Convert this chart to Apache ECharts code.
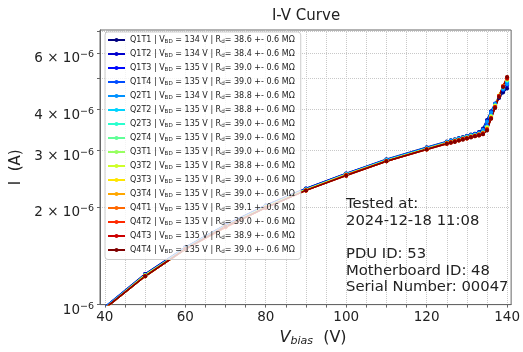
<!DOCTYPE html>
<html><head><meta charset="utf-8">
<script src="https://cdn.jsdelivr.net/npm/echarts@6/dist/echarts.min.js"></script>
<style>html,body{margin:0;padding:0;background:#fff}#c{width:523px;height:352px}</style>
</head><body><div id="c"></div>
<script>
// Bias voltages (V)
const voltages = [40,50,60,70,80,90,100,110,120,125,126,127,128,129,130,131,132,133,134,135,136,137,138,139,140];
// Channel labels
const channels = ['Q1T1','Q1T2','Q1T3','Q1T4','Q2T1','Q2T2','Q2T3','Q2T4','Q3T1','Q3T2','Q3T3','Q3T4','Q4T1','Q4T2','Q4T3','Q4T4'];
const vbd = [134,134,135,135,134,135,135,135,135,135,135,135,135,135,135,135];
const rd = ['38.6','38.4','39.0','39.0','38.8','38.8','39.0','39.0','39.0','38.8','39.0','39.0','39.1','39.0','38.9','39.0'];
const rdErr = '0.6';
// Currents in µA (×1e-6 A)
const iQ1T1 = [0.98,1.24,1.50,1.76,2.02,2.28,2.54,2.81,3.06,3.19,3.22,3.24,3.27,3.29,3.32,3.35,3.37,3.41,3.50,3.72,3.95,4.15,4.35,4.52,4.65];
const iQ1T2 = [0.98,1.24,1.50,1.76,2.02,2.28,2.54,2.80,3.05,3.18,3.21,3.23,3.26,3.28,3.31,3.34,3.37,3.40,3.48,3.70,3.95,4.18,4.40,4.60,4.75];
const iQ1T3 = [0.98,1.23,1.49,1.75,2.01,2.27,2.53,2.80,3.04,3.17,3.20,3.22,3.25,3.27,3.30,3.32,3.35,3.38,3.42,3.58,3.85,4.12,4.38,4.62,4.82];
const iQ1T4 = [0.97,1.23,1.49,1.75,2.01,2.27,2.52,2.79,3.04,3.17,3.19,3.22,3.24,3.27,3.29,3.32,3.34,3.37,3.41,3.56,3.84,4.12,4.40,4.65,4.86];
const iQ2T1 = [0.98,1.23,1.49,1.75,2.01,2.27,2.53,2.80,3.05,3.18,3.21,3.23,3.26,3.28,3.31,3.34,3.36,3.39,3.47,3.68,3.93,4.17,4.40,4.62,4.80];
const iQ2T2 = [0.97,1.23,1.49,1.75,2.00,2.26,2.52,2.79,3.03,3.16,3.19,3.21,3.24,3.26,3.29,3.31,3.34,3.36,3.40,3.55,3.83,4.12,4.41,4.68,4.90];
const iQ2T3 = [0.97,1.23,1.48,1.74,2.00,2.26,2.52,2.78,3.03,3.16,3.18,3.21,3.23,3.26,3.28,3.31,3.33,3.36,3.39,3.52,3.81,4.11,4.42,4.70,4.94];
const iQ2T4 = [0.97,1.22,1.48,1.74,2.00,2.26,2.51,2.78,3.03,3.15,3.18,3.20,3.23,3.25,3.28,3.30,3.33,3.35,3.39,3.51,3.80,4.10,4.41,4.71,4.96];
const iQ3T1 = [0.97,1.22,1.48,1.74,2.00,2.26,2.51,2.78,3.02,3.15,3.18,3.20,3.22,3.25,3.27,3.30,3.32,3.35,3.38,3.50,3.79,4.09,4.42,4.72,4.98];
const iQ3T2 = [0.97,1.23,1.48,1.74,2.00,2.26,2.52,2.78,3.03,3.16,3.18,3.21,3.23,3.26,3.28,3.31,3.33,3.36,3.40,3.53,3.82,4.12,4.43,4.72,4.95];
const iQ3T3 = [0.97,1.22,1.48,1.74,1.99,2.25,2.51,2.77,3.02,3.15,3.17,3.20,3.22,3.25,3.27,3.30,3.32,3.34,3.38,3.49,3.78,4.09,4.42,4.74,5.00];
const iQ3T4 = [0.97,1.22,1.48,1.73,1.99,2.25,2.51,2.77,3.02,3.14,3.17,3.19,3.22,3.24,3.27,3.29,3.32,3.34,3.37,3.48,3.78,4.08,4.41,4.74,5.02];
const iQ4T1 = [0.97,1.22,1.48,1.73,1.99,2.25,2.50,2.77,3.01,3.14,3.17,3.19,3.21,3.24,3.26,3.29,3.31,3.34,3.37,3.47,3.76,4.07,4.40,4.73,5.03];
const iQ4T2 = [0.97,1.22,1.48,1.73,1.99,2.25,2.50,2.77,3.01,3.14,3.16,3.19,3.21,3.24,3.26,3.29,3.31,3.33,3.36,3.46,3.76,4.07,4.40,4.73,5.04];
const iQ4T3 = [0.97,1.22,1.48,1.74,1.99,2.25,2.51,2.77,3.02,3.15,3.17,3.20,3.22,3.25,3.27,3.30,3.32,3.35,3.38,3.48,3.77,4.08,4.41,4.72,4.99];
const iQ4T4 = [0.97,1.22,1.48,1.74,1.99,2.25,2.50,2.77,3.01,3.14,3.16,3.18,3.21,3.23,3.26,3.28,3.31,3.33,3.36,3.45,3.75,4.05,4.38,4.70,5.05];
const currents = [iQ1T1,iQ1T2,iQ1T3,iQ1T4,iQ2T1,iQ2T2,iQ2T3,iQ2T4,iQ3T1,iQ3T2,iQ3T3,iQ3T4,iQ4T1,iQ4T2,iQ4T3,iQ4T4];
const colors = ['#000080','#0000cd','#0008ff','#004dff','#0091ff','#00d4ff','#29ffce','#60ff97','#97ff60','#ceff29','#ffe600','#ffa700','#ff6800','#ff2900','#cd0000','#800000'];
// Axis ticks (y in units of 1e-6 A)
const yTickMantissas = [1,2,3,4,5,6,7];
const yLabelMantissas = [1,2,3,4,6];
const yMinA = 0.997e-6, yMaxA = 7.06e-6;
const xTicks = [40,45,50,55,60,65,70,75,80,85,90,95,100,105,110,115,120,125,130,135,140];
const xLabels = [40,60,80,100,120,140];
const infoText = 'Tested at:\n2024-12-18 11:08\n\nPDU ID: 53\nMotherboard ID: 48\nSerial Number: 00047';

const FONT = 'DejaVu Sans';
const lg = v => Math.log10(v);
const chart = echarts.init(document.getElementById('c'), null, {renderer: 'canvas'});
const series = channels.map((name, i) => ({
  name, type: 'line',
  data: voltages.map((v, j) => [v, lg(currents[i][j] * 1e-6)]),
  symbol: 'circle', symbolSize: 4,
  lineStyle: {width: 1.5, color: colors[i]},
  itemStyle: {color: colors[i]},
  animation: false
}));
const gridLine = {show: true, lineStyle: {color: '#c8c8c8', type: 'dotted', width: 1}};
chart.setOption({
  animation: false,
  textStyle: {fontFamily: FONT},
  title: {text: 'I-V Curve', left: 306, top: 9, padding: 0, textAlign: 'center',
    textStyle: {fontFamily: FONT, fontSize: 15, fontWeight: 'normal', color: '#222'}},
  grid: {left: 100, right: 10, top: 30, bottom: 40, show: true, borderColor: '#666', borderWidth: 1},
  xAxis: {
    type: 'value', min: 38.8, max: 141,
    axisLine: {show: true, lineStyle: {color: '#666'}},
    axisTick: {show: true, length: 3, customValues: xTicks, lineStyle: {color: '#666'}},
    axisLabel: {customValues: xLabels, fontSize: 13.5, color: '#222', fontFamily: FONT, margin: 6},
    splitLine: gridLine,
    name: '{i|V}{sub|bias}{n|  (V)}', nameLocation: 'middle', nameGap: 20,
    nameTextStyle: {fontFamily: FONT, fontSize: 16, color: '#222', padding: [0, 0, 0, 15],
      rich: {i: {fontSize: 16, fontStyle: 'italic', fontFamily: FONT, color: '#222'},
             sub: {fontSize: 11, fontStyle: 'italic', fontFamily: FONT, color: '#222', padding: [8, 0, 0, 0]},
             n: {fontSize: 16, fontFamily: FONT, color: '#222'}}}
  },
  yAxis: {
    type: 'value', min: lg(yMinA), max: lg(yMaxA),
    axisLine: {show: true, lineStyle: {color: '#666'}},
    axisTick: {show: true, length: 3, customValues: yTickMantissas.map(m => lg(m * 1e-6)), lineStyle: {color: '#666'}},
    axisLabel: {
      customValues: yLabelMantissas.map(m => lg(m * 1e-6)), margin: 6,
      padding: [10, 0, 0, 0],
      formatter: v => {
        const m = Math.round(Math.pow(10, v + 6));
        return m === 1 ? '{b|10}{s|−6}' : '{b|' + m + ' × 10}{s|−6}';
      },
      rich: {b: {fontSize: 13.5, fontFamily: FONT, color: '#222', verticalAlign: 'bottom'},
             s: {fontSize: 9.5, fontFamily: FONT, color: '#222', verticalAlign: 'bottom', padding: [0, 0, 6, 0]}}
    },
    splitLine: gridLine,
    name: 'I  (A)', nameLocation: 'middle', nameGap: 72, nameRotate: 90,
    nameTextStyle: {fontFamily: FONT, fontSize: 15, color: '#222'}
  },
  legend: {
    orient: 'vertical', left: 105, top: 32, itemWidth: 17, itemHeight: 5, itemGap: 5.5,
    padding: [4, 6, 5, 2],
    backgroundColor: 'rgba(255,255,255,0.8)', borderColor: '#ccc', borderWidth: 1, borderRadius: 3,
    data: channels,
    formatter: name => {
      const i = channels.indexOf(name);
      return '{n|' + name + ' | V}{sub|BD}{n| = ' + vbd[i] + ' V | R}{sub|d}{n|= ' + rd[i] + ' +- ' + rdErr + ' MΩ}';
    },
    textStyle: {fontFamily: FONT, fontSize: 8, color: '#222',
      rich: {n: {fontSize: 8, fontFamily: FONT, color: '#222'},
             sub: {fontSize: 5.6, fontFamily: FONT, color: '#222', padding: [3, 0, 0, 0]}}}
  },
  graphic: [{type: 'text', left: 346, top: 196, z: 10,
    style: {text: infoText, fontFamily: FONT, fontSize: 14.8, lineHeight: 16.6, fill: '#222'}}],
  series
});
</script></body></html>
